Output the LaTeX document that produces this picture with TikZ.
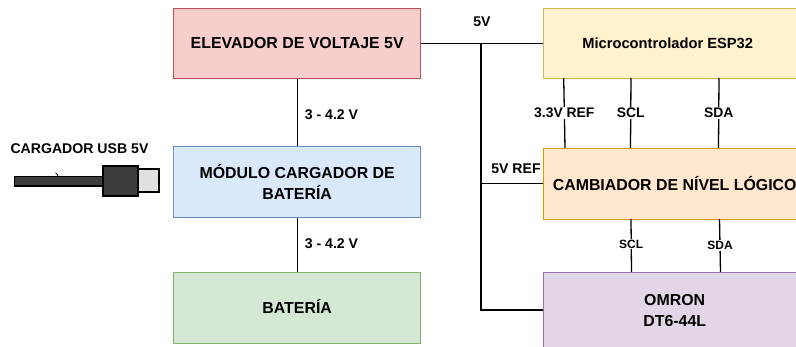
\documentclass[tikz,border=0pt]{standalone}
\usepackage{fontspec}
\setmainfont{Liberation Sans}
\definecolor{redfill}{HTML}{F8CECC}\definecolor{redline}{HTML}{B85450}
\definecolor{bluefill}{HTML}{DAE8FC}\definecolor{blueline}{HTML}{6C8EBF}
\definecolor{greenfill}{HTML}{D5E8D4}\definecolor{greenline}{HTML}{82B366}
\definecolor{yellowfill}{HTML}{FFF2CC}\definecolor{yellowline}{HTML}{D6B656}
\definecolor{orangefill}{HTML}{FFE6CC}\definecolor{orangeline}{HTML}{D79B00}
\definecolor{purplefill}{HTML}{E1D5E7}\definecolor{purpleline}{HTML}{9673A6}
\definecolor{plugdark}{HTML}{3C3C3C}\definecolor{pluglight}{HTML}{E0E0E0}
\tikzset{
  blockbox/.style={draw=#1line,fill=#1fill,line width=1.4pt,minimum height=70pt,anchor=north west,inner sep=0pt,align=center,font=\fontsize{15.9}{21}\selectfont\bfseries},
  wirelabel/.style={fill=white,inner sep=1pt,font=\fontsize{13.9}{16}\selectfont\bfseries},
  smalllabel/.style={fill=white,inner sep=1pt,font=\fontsize{12}{14}\selectfont\bfseries},
  freelabel/.style={inner sep=0pt,font=\fontsize{14.1}{16}\selectfont\bfseries},
  wire/.style={draw=black,line width=1.3pt}
}
\begin{document}
\begin{tikzpicture}[x=1pt,y=-1pt]
\useasboundingbox (0,0) rectangle (796,347);
\clip (0,0) rectangle (796,347);
\node[blockbox=red,minimum width=247pt] (elev) at (173,8) {\raisebox{.5pt}{ELEVADOR DE VOLTAJE 5V}};
\node[blockbox=blue,minimum width=247pt,minimum height=71pt] (carg) at (173,146) {MÓDULO CARGADOR DE\\BATERÍA};
\node[blockbox=green,minimum width=247pt,minimum height=71pt] (bat) at (173,272) {\raisebox{2.5pt}{BATERÍA}};
\node[blockbox=yellow,minimum width=262pt,font=\fontsize{14.7}{18}\selectfont\bfseries] (esp) at (543,8) {\hspace*{-14pt}\raisebox{1pt}{Microcontrolador ESP32}};
\node[blockbox=orange,minimum width=262pt,minimum height=71pt] (camb) at (543,148) {\raisebox{2pt}{CAMBIADOR DE NÍVEL LÓGICO}};
\node[blockbox=purple,minimum width=262pt,minimum height=76pt] (omron) at (543,272) {OMRON\\DT6-44L};

% power rail
\coordinate (railtop) at (481,43);
\coordinate (railref) at (481,183.5);
\coordinate (railbot) at (481,310);
\draw[wire] (elev.east) -- (esp.west);
\draw[wire] (railtop) -- (railref) -- (railbot) -- (railbot -| omron.west);
\draw[wire] (railref) -- (railref -| camb.west);
\node[freelabel] (l5v) at (482,22) {5V};
\node[freelabel] (l5vref) at (516,169) {5V REF};

% left chain
\draw[wire] (elev.south) -- node[freelabel,pos=.53,right=7pt] {3 - 4.2 V} (carg.north);
\draw[wire] (carg.south) -- node[freelabel,pos=.47,right=7pt] {3 - 4.2 V} (bat.north);

% esp to level shifter
\coordinate (a1) at (563.7,78); \coordinate (a2) at (565,148);
\coordinate (b1) at (631,78);   \coordinate (b2) at (630.5,148);
\coordinate (c1) at (719,78);   \coordinate (c2) at (718.5,148);
\draw[wire] (a1) -- node[wirelabel,pos=.5] {3.3V REF} (a2);
\draw[wire] (b1) -- node[wirelabel,pos=.5] {SCL} (b2);
\draw[wire] (c1) -- node[wirelabel,pos=.5] {SDA} (c2);

% level shifter to omron
\coordinate (d1) at (631,219);   \coordinate (d2) at (631.5,272);
\coordinate (e1) at (719.5,219); \coordinate (e2) at (720.5,272);
\draw[wire] (d1) -- node[smalllabel,pos=.47] {SCL} (d2);
\draw[wire] (e1) -- node[smalllabel,pos=.5] {SDA} (e2);

% USB plug
\node[freelabel] (usblabel) at (79.5,148.5) {CARGADOR USB 5V};
\draw[line width=1.2pt,fill=pluglight] (138,169) rectangle (159,192);
\draw[line width=1.2pt,fill=plugdark] (14.5,176.5) rectangle (103,186);
\draw[line width=1.2pt,fill=plugdark] (103,166) rectangle (138,196);
\draw[line width=.8pt] (55.5,173) .. controls (57.5,174) and (58,175) .. (58,176);
\end{tikzpicture}
\end{document}
